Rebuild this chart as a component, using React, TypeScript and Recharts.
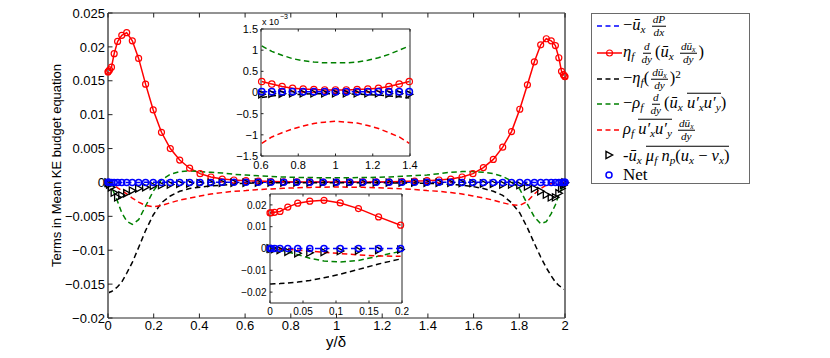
import React from "react";
import { LineChart, Line, XAxis, YAxis } from "recharts";

// ---------- data ----------
const yDelta = [0, 0.0017, 0.0068, 0.0152, 0.027, 0.042, 0.0603, 0.0818, 0.1064, 0.134, 0.1645, 0.1979, 0.234, 0.2726, 0.3138, 0.3572, 0.4028, 0.4505, 0.5, 0.5512, 0.6039, 0.658, 0.7132, 0.7694, 0.8264, 0.8839, 0.9419, 1, 1.0581, 1.1161, 1.1736, 1.2306, 1.2868, 1.342, 1.3961, 1.4488, 1.5, 1.5495, 1.5972, 1.6428, 1.6862, 1.7274, 1.766, 1.8021, 1.8355, 1.866, 1.8936, 1.9182, 1.9397, 1.958, 1.973, 1.9848, 1.9932, 1.9983, 2];

const pressureWork = [0, 0.000001, 0.000002, 0.000003, 0.000004, 0.000005, 0.000007, 0.000008, 0.000009, 0.00001, 0.000011, 0.000012, 0.000013, 0.000014, 0.000015, 0.000016, 0.000017, 0.000018, 0.000018, 0.000019, 0.000019, 0.00002, 0.00002, 0.00002, 0.00002, 0.00002, 0.00002, 0.00002,
  0.00002, 0.00002, 0.00002, 0.00002, 0.00002, 0.00002, 0.000019, 0.000019, 0.000018, 0.000018, 0.000017, 0.000016, 0.000015, 0.000014, 0.000013, 0.000012, 0.000011, 0.00001, 0.000009, 0.000008, 0.000007, 0.000005, 0.000004, 0.000003, 0.000002, 0.000001, 0];

const viscousDiffusion = [0.0163, 0.0164, 0.0166, 0.017, 0.019, 0.0208, 0.0217, 0.0221, 0.0209, 0.0183, 0.0145, 0.0107, 0.0074, 0.005, 0.0033, 0.0021, 0.0013, 0.0008, 0.0005, 0.00036, 0.00026, 0.0002, 0.00014, 0.0001, 0.00008, 0.00007, 0.00006, 0.00006,
  0.00006, 0.00007, 0.00008, 0.0001, 0.00014, 0.0002, 0.00026, 0.00036, 0.0005, 0.0008, 0.0013, 0.0022, 0.0034, 0.0052, 0.0075, 0.0108, 0.0144, 0.0178, 0.0203, 0.0212, 0.0209, 0.0202, 0.0184, 0.0164, 0.0159, 0.0157, 0.0156];

const viscousDissipation = [-0.0163, -0.0163, -0.0162, -0.0161, -0.0158, -0.0154, -0.0147, -0.0134, -0.0118, -0.0096, -0.0071, -0.0048, -0.003, -0.002, -0.0013, -0.0009, -0.0007, -0.0005, -0.0004, -0.00022, -0.00012, -0.00008, -0.00006, -0.00005, -0.00004, -0.00003, -0.00003, -0.00003,
  -0.00003, -0.00004, -0.00005, -0.00006, -0.00008, -0.0001, -0.00013, -0.0002, -0.0003, -0.0004, -0.0006, -0.0009, -0.0013, -0.0019, -0.003, -0.0045, -0.0067, -0.009, -0.011, -0.0126, -0.0138, -0.0147, -0.0152, -0.0155, -0.0157, -0.0158, -0.0158];

const turbulentTransport = [0, -0.0001, -0.0003, -0.0007, -0.0016, -0.0028, -0.0045, -0.0057, -0.0062, -0.0055, -0.0035, -0.0013, 0.0004, 0.0012, 0.0016, 0.0017, 0.0016, 0.0015, 0.0014, 0.0012, 0.0011, 0.00097, 0.00088, 0.0008, 0.00075, 0.00072, 0.0007, 0.0007,
  0.0007, 0.00072, 0.00076, 0.00082, 0.0009, 0.001, 0.0011, 0.0013, 0.0015, 0.0016, 0.0016, 0.0015, 0.0013, 0.0009, 0.0002, -0.001, -0.0032, -0.0051, -0.0061, -0.0058, -0.0046, -0.0033, -0.0018, -0.001, -0.0004, -0.0001, 0];

const turbulentProduction = [0, 0, -0.0001, -0.0002, -0.0004, -0.0008, -0.0012, -0.0017, -0.0023, -0.0029, -0.0034, -0.0036, -0.0034, -0.003, -0.0026, -0.0023, -0.002, -0.0017, -0.0015, -0.0013, -0.0012, -0.00105, -0.00095, -0.00086, -0.00079, -0.00073, -0.0007, -0.00068,
  -0.0007, -0.00072, -0.00078, -0.00085, -0.00095, -0.00105, -0.0012, -0.0013, -0.0015, -0.0017, -0.002, -0.0023, -0.0026, -0.003, -0.0033, -0.0034, -0.0028, -0.0017, -0.0009, -0.0004, -0.0002, -0.0001, -0.0001, 0, 0, 0, 0];

const particleWork = [0, -0.0001, -0.0003, -0.0007, -0.0015, -0.0022, -0.0019, -0.0016, -0.0012, -0.0009, -0.0007, -0.0005, -0.0004, -0.0003, -0.0002, -0.00015, -0.0001, -0.00008, -0.00006, -0.00005, -0.00004, -0.00003, -0.00003, -0.00002, -0.00002, -0.00002, -0.00002, -0.00002,
  -0.00002, -0.00002, -0.00002, -0.00002, -0.00003, -0.00003, -0.00004, -0.00005, -0.00006, -0.00008, -0.0001, -0.00015, -0.0002, -0.0003, -0.0003, -0.0004, -0.0006, -0.0009, -0.0013, -0.0018, -0.0022, -0.0022, -0.0016, -0.0009, -0.0004, -0.0001, 0];

const netBudget = [0.00002, 0.00002, 0.00001, 0.00001, 0.00001, 0, 0, 0, 0.00001, 0.00001, 0.00001, 0.00001, 0.00001, 0.00001, 0.00001, 0.00001, 0.00001, 0.00001, 0.00002, 0.00002, 0.00002, 0.00002, 0.00002, 0.00002, 0.00002, 0.00002, 0.00002, 0.00002,
  0.00002, 0.00002, 0.00002, 0.00002, 0.00002, 0.00002, 0.00002, 0.00002, 0.00002, 0.00001, 0.00001, 0.00001, 0.00001, 0.00001, 0.00001, 0.00001, 0.00001, 0.00001, 0.00001, 0, 0, 0, 0.00001, 0.00001, 0.00001, 0.00002, 0.00002];

// ---------- ticks ----------
const mainXTicks = [0, 0.2, 0.4, 0.6, 0.8, 1, 1.2, 1.4, 1.6, 1.8, 2];
const mainYTicks = [-0.02, -0.015, -0.01, -0.005, 0, 0.005, 0.01, 0.015, 0.02, 0.025];
const topXTicks = [0.6, 0.8, 1, 1.2, 1.4];
const topYTicks = [-0.0015, -0.001, -0.0005, 0, 0.0005, 0.001, 0.0015];
const topYLabels = ["\u22121.5", "\u22121", "\u22120.5", "0", "0.5", "1", "1.5"];
const botXTicks = [0, 0.05, 0.1, 0.15, 0.2];
const botYTicks = [-0.02, -0.01, 0, 0.01, 0.02];

const rows = yDelta.map((x, i) => ({
  x,
  pressure: pressureWork[i],
  diffusion: viscousDiffusion[i],
  dissipation: viscousDissipation[i],
  transport: turbulentTransport[i],
  production: turbulentProduction[i],
  particle: particleWork[i],
  net: netBudget[i],
}));
const topRows = rows.filter((r) => r.x >= 0.6 && r.x <= 1.4);
const botRows = rows.filter((r) => r.x <= 0.2);

const SANS = '"Liberation Sans", Arial, Helvetica, sans-serif';
const SERIF = '"Liberation Serif", "DejaVu Serif", "Times New Roman", serif';

const numLabel = (v: number) => {
  const s = String(v);
  return s[0] === "-" ? "\u2212" + s.slice(1) : s;
};

type Side = "bottom" | "top" | "left" | "right";
function makeTick(side: Side, len: number, color: string, fontSize = 0, gap = 0, fmt?: (v: number) => string) {
  return (props: any) => {
    const { x, y, payload } = props;
    const v = payload ? payload.value : 0;
    let ln: any;
    if (side === "bottom") ln = <line x1={x} y1={y} x2={x} y2={y - len} stroke={color} strokeWidth={1} />;
    else if (side === "top") ln = <line x1={x} y1={y} x2={x} y2={y + len} stroke={color} strokeWidth={1} />;
    else if (side === "left") ln = <line x1={x} y1={y} x2={x + len} y2={y} stroke={color} strokeWidth={1} />;
    else ln = <line x1={x} y1={y} x2={x - len} y2={y} stroke={color} strokeWidth={1} />;
    let label: any = null;
    if (fmt && fontSize) {
      if (side === "bottom")
        label = (
          <text x={x} y={y + gap} textAnchor="middle" fontSize={fontSize} fontFamily={SANS} fill="#000" stroke="none">
            {fmt(v)}
          </text>
        );
      else if (side === "left")
        label = (
          <text x={x - gap} y={y} dy="0.36em" textAnchor="end" fontSize={fontSize} fontFamily={SANS} fill="#000" stroke="none">
            {fmt(v)}
          </text>
        );
    }
    return (
      <g>
        {ln}
        {label}
      </g>
    );
  };
}

type FrameOpts = {
  xTicks: number[];
  yTicks: number[];
  xDomain: [number, number];
  yDomain: [number, number];
  len: number;
  fontSize: number;
  xGap: number;
  yGap: number;
  yFmt: (v: number) => string;
  bottomH: number;
  topH: number;
  leftW: number;
  rightW: number;
  hStroke: string;
  hWidth: number;
  vStroke: string;
  vWidth: number;
};

function frameAxes(o: FrameOpts) {
  const tickCol = "#222";
  return [
    <XAxis key="xb" xAxisId="b" dataKey="x" type="number" orientation="bottom" domain={o.xDomain} ticks={o.xTicks} interval={0}
      height={o.bottomH} tickSize={0} tickMargin={0} tickLine={false} axisLine={{ stroke: o.hStroke, strokeWidth: o.hWidth }}
      tick={makeTick("bottom", o.len, tickCol, o.fontSize, o.xGap, numLabel)} />,
    <XAxis key="xt" xAxisId="t" dataKey="x" type="number" orientation="top" domain={o.xDomain} ticks={o.xTicks} interval={0}
      height={o.topH} tickSize={0} tickMargin={0} tickLine={false} axisLine={{ stroke: o.hStroke, strokeWidth: o.hWidth }}
      tick={makeTick("top", o.len, tickCol)} />,
    <YAxis key="yl" yAxisId="l" type="number" orientation="left" domain={o.yDomain} ticks={o.yTicks} interval={0}
      width={o.leftW} tickSize={0} tickMargin={0} tickLine={false} axisLine={{ stroke: o.vStroke, strokeWidth: o.vWidth }}
      tick={makeTick("left", o.len, tickCol, o.fontSize, o.yGap, o.yFmt)} />,
    <YAxis key="yr" yAxisId="r" type="number" orientation="right" domain={o.yDomain} ticks={o.yTicks} interval={0}
      width={o.rightW} tickSize={0} tickMargin={0} tickLine={false} axisLine={{ stroke: o.vStroke, strokeWidth: o.vWidth }}
      tick={makeTick("right", o.len, tickCol)} />,
  ];
}

const TriangleDot = (props: any) => {
  const { cx, cy, index } = props;
  if (cx == null || cy == null || isNaN(cx) || isNaN(cy)) return <g key={"t" + index} />;
  return (
    <path key={"t" + index} d={`M${cx - 3},${cy - 3.6} L${cx + 3.6},${cy} L${cx - 3},${cy + 3.6} Z`}
      fill="none" stroke="#000" strokeWidth={1.3} strokeLinejoin="miter" />
  );
};

const DASH = "5.5 3.5";
function seriesLines(r: number) {
  const c: any = { xAxisId: "b", yAxisId: "l", type: "linear", isAnimationActive: false, activeDot: false, legendType: "none" };
  return [
    <Line key="pressure" {...c} dataKey="pressure" stroke="#0000ff" strokeWidth={1.5} strokeDasharray={DASH} dot={false} />,
    <Line key="diffusion" {...c} dataKey="diffusion" stroke="#ff0000" strokeWidth={1.5}
      dot={{ r, stroke: "#ff0000", strokeWidth: 1.2, fill: "none", clipDot: false }} />,
    <Line key="dissipation" {...c} dataKey="dissipation" stroke="#000000" strokeWidth={1.5} strokeDasharray={DASH} dot={false} />,
    <Line key="transport" {...c} dataKey="transport" stroke="#008000" strokeWidth={1.5} strokeDasharray={DASH} dot={false} />,
    <Line key="production" {...c} dataKey="production" stroke="#ff0000" strokeWidth={1.5} strokeDasharray={DASH} dot={false} />,
    <Line key="particle" {...c} dataKey="particle" stroke="none" dot={TriangleDot} />,
    <Line key="net" {...c} dataKey="net" stroke="none"
      dot={{ r, stroke: "#0000ff", strokeWidth: 1.5, fill: "none", clipDot: false }} />,
  ];
}

// ---------- legend helpers ----------
const I = ({ children }: any) => <span style={{ fontStyle: "italic" }}>{children}</span>;
const Sub = ({ children }: any) => (
  <span style={{ fontSize: "0.68em", position: "relative", top: "0.3em", fontStyle: "italic" }}>{children}</span>
);
const Sup = ({ children }: any) => (
  <span style={{ fontSize: "0.68em", position: "relative", top: "-0.45em" }}>{children}</span>
);
const Bar = ({ children }: any) => (
  <span style={{ display: "inline-block", borderTop: "1px solid #000", paddingTop: 1, lineHeight: 1 }}>{children}</span>
);
const Frac = ({ n, d }: any) => (
  <span style={{ display: "inline-flex", flexDirection: "column", alignItems: "center", verticalAlign: "middle", fontSize: "0.68em", lineHeight: 1.05, margin: "0 2px" }}>
    <span style={{ padding: "0 1px", borderBottom: "0.8px solid #000" }}>{n}</span>
    <span style={{ padding: "0 1px" }}>{d}</span>
  </span>
);
const Ux = () => (
  <>
    <I>ū</I>
    <Sub>x</Sub>
  </>
);
const dUx = (
  <>
    <I>dū</I>
    <Sub>x</Sub>
  </>
);
const uvBar = (
  <Bar>
    <I>u′</I>
    <Sub>x</Sub>
    <I>u′</I>
    <Sub>y</Sub>
  </Bar>
);

const legendLabels: any[] = [
  <>−<Ux /> <Frac n={<I>dP</I>} d={<I>dx</I>} /></>,
  <><I>η</I><Sub>f</Sub> <Frac n={<I>d</I>} d={<I>dy</I>} />(<Ux /> <Frac n={dUx} d={<I>dy</I>} />)</>,
  <>−<I>η</I><Sub>f</Sub>(<Frac n={dUx} d={<I>dy</I>} />)<Sup>2</Sup></>,
  <>−<I>ρ</I><Sub>f</Sub> <Frac n={<I>d</I>} d={<I>dy</I>} />(<Ux /> {uvBar})</>,
  <><I>ρ</I><Sub>f</Sub> {uvBar} <Frac n={dUx} d={<I>dy</I>} /></>,
  <>-<Ux /> <Bar><I>μ</I><Sub>f</Sub> <I>n</I><Sub>p</Sub>(<I>u</I><Sub>x</Sub> − <I>v</I><Sub>x</Sub>)</Bar></>,
  <span style={{ fontSize: 17 }}>Net</span>,
];
const legendKinds = ["dash", "solidDot", "dash", "dash", "dash", "tri", "circle"];
const legendColors = ["#0000ff", "#ff0000", "#000000", "#008000", "#ff0000", "#000000", "#0000ff"];
const legendCenters = [12, 39, 65, 90, 116, 141, 161];

function LegendIcon({ kind, color }: { kind: string; color: string }) {
  return (
    <svg width={32} height={20} style={{ position: "absolute", left: 0, top: 0 }}>
      {kind === "dash" && <line x1={5} y1={10} x2={30} y2={10} stroke={color} strokeWidth={1.5} strokeDasharray="5 3.5" />}
      {kind === "solidDot" && (
        <>
          <line x1={5} y1={10} x2={30} y2={10} stroke={color} strokeWidth={1.5} />
          <circle cx={17.5} cy={10} r={3} stroke={color} strokeWidth={1.2} fill="none" />
        </>
      )}
      {kind === "tri" && <path d="M14,6.4 L20.6,10 L14,13.6 Z" fill="none" stroke={color} strokeWidth={1.4} />}
      {kind === "circle" && <circle cx={17} cy={10} r={3} stroke={color} strokeWidth={1.5} fill="none" />}
    </svg>
  );
}

export default function App() {
  return (
    <div style={{ position: "absolute", left: 0, top: 0, width: 830, height: 358, background: "#fff", overflow: "hidden" }}>
      {/* main chart */}
      <div style={{ position: "absolute", left: 0, top: 0 }}>
        <LineChart width={830} height={358} data={rows} margin={{ top: 3, right: 255, bottom: 10, left: 48 }}>
          {frameAxes({
            xTicks: mainXTicks, yTicks: mainYTicks, xDomain: [0, 2], yDomain: [-0.02, 0.025], len: 4.5, fontSize: 13,
            xGap: 12, yGap: 3, yFmt: numLabel, bottomH: 30, topH: 10, leftW: 60, rightW: 10,
            hStroke: "#262626", hWidth: 1, vStroke: "#7a7a7a", vWidth: 2,
          })}
          {seriesLines(3)}
        </LineChart>
      </div>

      {/* top inset */}
      <div style={{ position: "absolute", left: 261, top: 29, width: 149, height: 127, background: "#fff" }} />
      <div style={{ position: "absolute", left: 200, top: 10 }}>
        <LineChart width={220} height={170} data={topRows} margin={{ top: 14, right: 5, bottom: 4, left: 21 }}>
          {frameAxes({
            xTicks: topXTicks, yTicks: topYTicks, xDomain: [0.6, 1.4], yDomain: [-0.0015, 0.0015], len: 2.5, fontSize: 11,
            xGap: 13, yGap: 3, yFmt: (v) => topYLabels[topYTicks.indexOf(v)] ?? "", bottomH: 20, topH: 5, leftW: 40, rightW: 5,
            hStroke: "#262626", hWidth: 1, vStroke: "#262626", vWidth: 1,
          })}
          {seriesLines(3.2)}
        </LineChart>
      </div>

      {/* bottom inset */}
      <div style={{ position: "absolute", left: 270, top: 194, width: 132, height: 109, background: "#fff" }} />
      <div style={{ position: "absolute", left: 220, top: 185 }}>
        <LineChart width={200} height={135} data={botRows} margin={{ top: 4, right: 13, bottom: 2, left: 10 }}>
          {frameAxes({
            xTicks: botXTicks, yTicks: botYTicks, xDomain: [0, 0.2], yDomain: [-0.025, 0.025], len: 2.5, fontSize: 10,
            xGap: 12, yGap: 3.5, yFmt: numLabel, bottomH: 15, topH: 5, leftW: 40, rightW: 5,
            hStroke: "#262626", hWidth: 1, vStroke: "#262626", vWidth: 1,
          })}
          {seriesLines(3)}
        </LineChart>
      </div>

      {/* legend */}
      <div style={{ position: "absolute", left: 591, top: 13, width: 157, height: 169, border: "1px solid #6a6a6a", background: "#fff", fontFamily: SERIF, fontSize: 16.5, color: "#000" }}>
        {legendLabels.map((lab, i) => (
          <div key={i} style={{ position: "absolute", left: 0, top: legendCenters[i] - 10, height: 20, width: 157 }}>
            <LegendIcon kind={legendKinds[i]} color={legendColors[i]} />
            <div style={{ position: "absolute", left: 31, top: 10, transform: "translateY(-50%)", whiteSpace: "nowrap", lineHeight: 1 }}>
              {lab}
            </div>
          </div>
        ))}
      </div>

      {/* axis titles */}
      <svg width={830} height={358} style={{ position: "absolute", left: 0, top: 0, pointerEvents: "none" }}>
        <text transform="translate(56,165.5) rotate(-90)" textAnchor="middle" dy="0.35em" fontSize={13} fontFamily={SANS} fill="#000">
          Terms in Mean KE budget equation
        </text>
        <text x={336} y={347} textAnchor="middle" fontSize={15} fontFamily={SANS} fill="#000">
          y/δ
        </text>
        <text x={262} y={25} fontSize={9} fontFamily={SANS} fill="#000">x 10</text>
        <text x={280} y={19} fontSize={7} fontFamily={SANS} fill="#000">−3</text>
      </svg>
    </div>
  );
}
